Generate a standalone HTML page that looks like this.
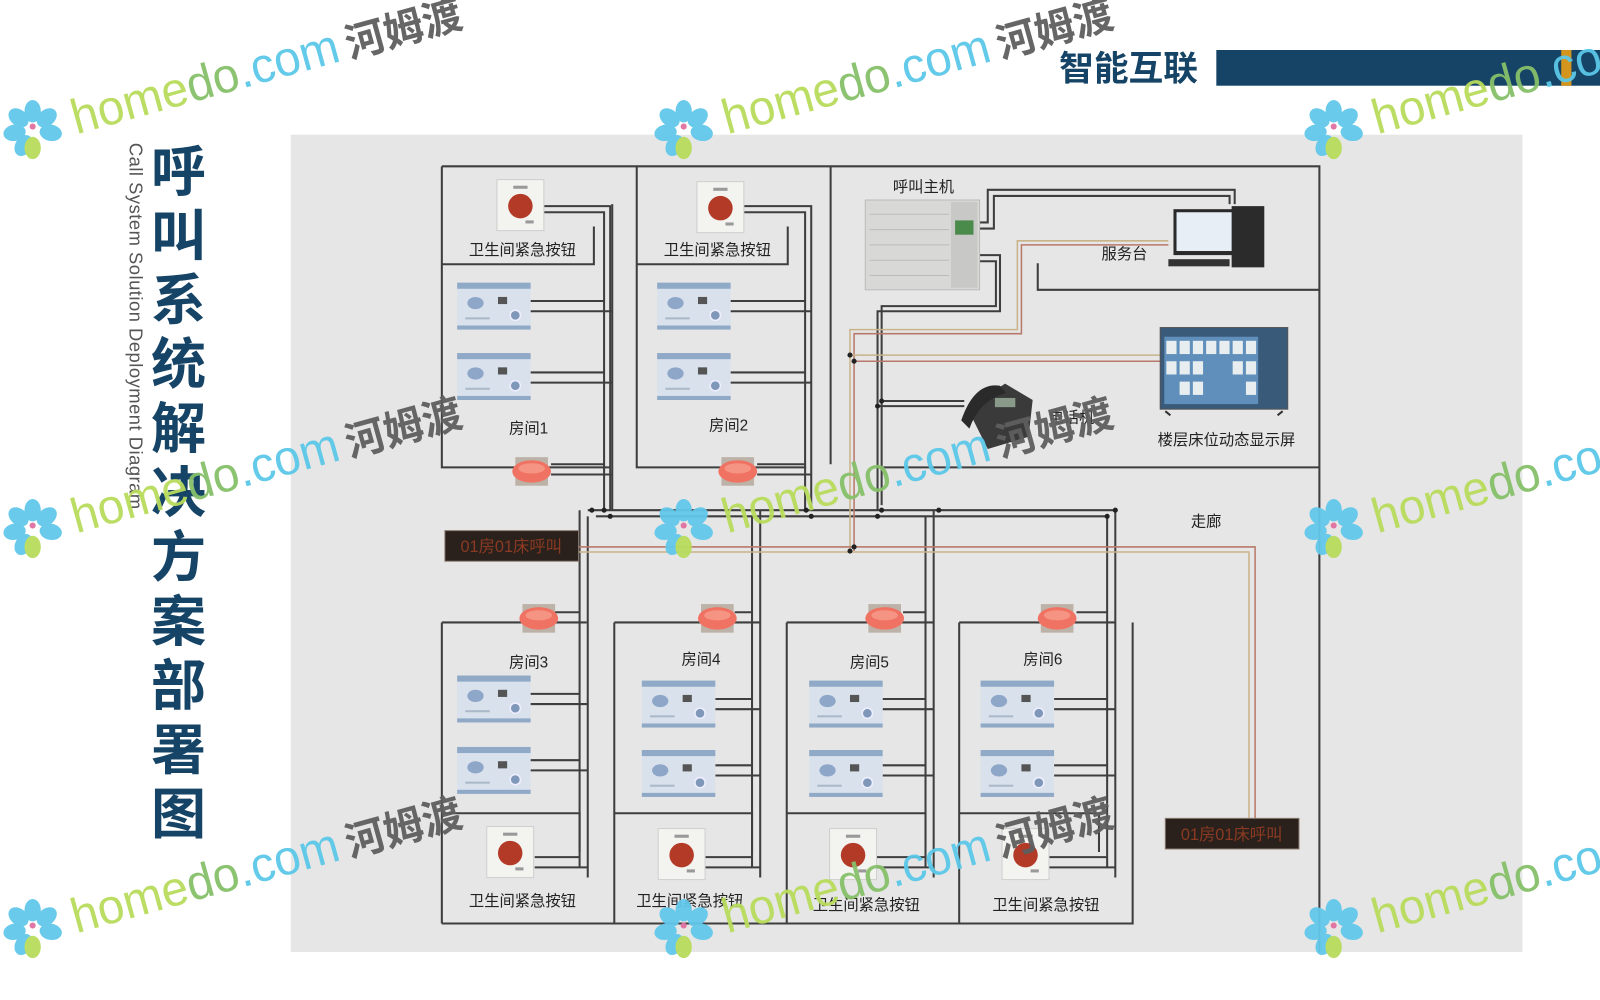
<!DOCTYPE html>
<html><head><meta charset="utf-8"><style>
html,body{margin:0;padding:0;background:#fff;width:1600px;height:1000px;overflow:hidden}
svg{display:block}
text{font-family:"Liberation Sans","Noto Sans CJK SC",sans-serif}
</style></head><body>
<svg width="1600" height="1000" viewBox="0 0 1568 980" preserveAspectRatio="none" xmlns="http://www.w3.org/2000/svg">
<defs>
<g id="bu">
<rect x="0" y="0" width="72" height="46" rx="2" fill="#d9e2ec"/>
<rect x="0" y="0" width="72" height="6" fill="#8fa9c7"/>
<rect x="0" y="42" width="72" height="4" fill="#8fa9c7"/>
<ellipse cx="18" cy="20" rx="8" ry="6" fill="#8ea7c9"/>
<rect x="40" y="14" width="9" height="7" fill="#555"/>
<circle cx="57" cy="32" r="5" fill="#7f97b8" stroke="#eef" stroke-width="1.5"/>
<rect x="8" y="34" width="24" height="2" fill="#aab8c8"/>
</g>
<g id="eb">
<rect x="0" y="0" width="46" height="50" fill="#f3f3f0" stroke="#cfcfcf"/>
<circle cx="23" cy="26" r="12" fill="#b23a26"/>
<rect x="16" y="6" width="14" height="3" fill="#999"/>
<rect x="28" y="40" width="8" height="3" fill="#999"/>
</g>
<g id="lp">
<rect x="4" y="0" width="32" height="28" fill="#bdb2a8"/>
<ellipse cx="20" cy="14" rx="19" ry="11" fill="#f07262"/>
<ellipse cx="20" cy="11" rx="13" ry="5" fill="#f69484"/>
</g>
<g id="fl">
<g fill="#62c8ea">
<ellipse cx="0" cy="-18" rx="8" ry="11"/>
<ellipse cx="0" cy="-18" rx="8" ry="11" transform="rotate(50)"/>
<ellipse cx="0" cy="-18" rx="8" ry="11" transform="rotate(100)"/>
<ellipse cx="0" cy="-18" rx="8" ry="11" transform="rotate(-50)"/>
<ellipse cx="0" cy="-18" rx="8" ry="11" transform="rotate(-100)"/>
<ellipse cx="0" cy="-18" rx="8" ry="11" transform="rotate(-150)"/>
</g>
<ellipse cx="0" cy="18" rx="8" ry="11" fill="#b8dc5c"/>
<circle cx="0" cy="-3" r="3" fill="#e070a0"/>
</g>
<g id="wm">
<use href="#fl" x="0" y="0"/>
<g transform="rotate(-15.5)">
<text x="40" y="16" font-size="48" fill="#b8dc5c" textLength="395" lengthAdjust="spacingAndGlyphs">home<tspan fill="#86c06a">do</tspan><tspan fill="#5bc8e8">.com</tspan><tspan fill="#5e5e5e" font-weight="bold" font-size="40" dx="8">河姆渡</tspan></text>
</g>
</g>
</defs>

<text x="1038" y="79" font-size="34" font-weight="bold" fill="#164466">智能互联</text>
<rect x="1192" y="49" width="376" height="35" fill="#164466"/>
<rect x="1530" y="49" width="10" height="35" fill="#d4951e"/>

<g font-size="54" font-weight="bold" fill="#164466" text-anchor="middle">
<text x="175" y="187">呼</text><text x="175" y="250">叫</text><text x="175" y="313">系</text><text x="175" y="376">统</text><text x="175" y="439">解</text><text x="175" y="502">决</text><text x="175" y="565">方</text><text x="175" y="628">案</text><text x="175" y="691">部</text><text x="175" y="754">署</text><text x="175" y="817">图</text>
</g>
<text transform="translate(127,140) rotate(90)" font-size="18" fill="#555" letter-spacing="0.5">Call System Solution Deployment Diagram</text>

<rect x="285" y="132" width="1207" height="801" fill="#e6e6e6"/>

<g stroke="#3e3e3e" stroke-width="2" fill="none">
<path d="M433 163H1293V933"/>
<path d="M433 163V458H598"/>
<path d="M624 163V458H790"/>
<path d="M814 163V455"/>
<path d="M865 458H1293"/>
<path d="M1017 258V284H1293"/>
<path d="M433 259H582V222"/>
<path d="M533 202H598V500 M533 208H592V500"/>
<path d="M520 295H592 M520 305H600 M520 365H592 M520 375H600 M540 455H592 M540 465H600"/>
<path d="M600 200V500"/>
<path d="M624 259H772V222"/>
<path d="M729 202H795V500 M729 208H789V500"/>
<path d="M716 295H789 M716 305H795 M716 365H789 M716 375H795 M742 455H789 M742 465H795"/>
<path d="M960 218H968V186H1210V200 M960 224H974V192H1205V200"/>
<path d="M960 250H980V305H860V500 M960 256H976V300H864V495"/>
<path d="M860 398H945 M864 393H945"/>
<path d="M576 500H1093 M584 506H1085"/>
<path d="M433 905H1110V610 M433 610V905 M602 610V905 M771 610V905 M940 610V905"/>
<path d="M433 610H575 M602 610H745 M771 610H915 M940 610H1093"/>
<path d="M433 797H568V835 M602 797H737V835 M771 797H907V835 M940 797H1077V835"/>
<path d="M568 500V850 M576 506V860 M737 506V850 M745 500V860 M907 506V850 M915 500V860 M1085 506V850 M1093 500V860"/>
<path d="M520 680H568 M520 690H576 M520 745H568 M520 755H576 M524 840H568 M524 850H576 M540 600H568"/>
<path d="M701 685H737 M701 695H745 M701 750H737 M701 760H745 M690 840H737 M690 850H745 M720 600H737"/>
<path d="M865 685H907 M865 695H915 M865 750H907 M865 760H915 M858 840H907 M858 850H915 M885 600H907"/>
<path d="M1033 685H1085 M1033 695H1093 M1033 750H1085 M1033 760H1093 M1025 840H1085 M1025 850H1093 M1055 600H1085"/>
</g>
<g fill="none" stroke-width="1.5">
<path d="M1145 236H997V323H833V540" stroke="#c9b48a"/>
<path d="M1145 240H1001V327H837V540" stroke="#b77a6a"/>
<path d="M833 348H1137" stroke="#c9b48a"/>
<path d="M837 354H1137" stroke="#b77a6a"/>
<path d="M567 536H1230V802" stroke="#b77a6a"/>
<path d="M567 541H1224V802" stroke="#c9b48a"/>
</g>
<g fill="#222">
<circle cx="580" cy="500" r="2.5"/><circle cx="592" cy="500" r="2.5"/><circle cx="598" cy="506" r="2.5"/>
<circle cx="790" cy="500" r="2.5"/><circle cx="795" cy="506" r="2.5"/><circle cx="860" cy="506" r="2.5"/><circle cx="864" cy="500" r="2.5"/>
<circle cx="920" cy="500" r="2.5"/><circle cx="1093" cy="500" r="2.5"/><circle cx="1085" cy="506" r="2.5"/>
<circle cx="833" cy="348" r="2.5"/><circle cx="837" cy="354" r="2.5"/><circle cx="860" cy="398" r="2.5"/><circle cx="864" cy="393" r="2.5"/>
<circle cx="833" cy="540" r="2.5"/><circle cx="837" cy="536" r="2.5"/>
</g>

<use href="#eb" x="487" y="176"/><use href="#eb" x="683" y="178"/>
<use href="#bu" x="448" y="277"/><use href="#bu" x="448" y="346"/>
<use href="#bu" x="644" y="277"/><use href="#bu" x="644" y="346"/>
<use href="#lp" x="501" y="448"/><use href="#lp" x="703" y="448"/>
<use href="#lp" x="508" y="592"/><use href="#lp" x="683" y="592"/><use href="#lp" x="847" y="592"/><use href="#lp" x="1016" y="592"/>
<use href="#bu" x="448" y="662"/><use href="#bu" x="448" y="732"/>
<use href="#bu" x="629" y="667"/><use href="#bu" x="629" y="735"/>
<use href="#bu" x="793" y="667"/><use href="#bu" x="793" y="735"/>
<use href="#bu" x="961" y="667"/><use href="#bu" x="961" y="735"/>
<use href="#eb" x="477" y="810"/><use href="#eb" x="645" y="812"/><use href="#eb" x="813" y="812"/><use href="#eb" x="982" y="812"/>

<rect x="848" y="196" width="112" height="88" fill="#d8d8d6" stroke="#bbb"/>
<g stroke="#bbb" stroke-width="1"><path d="M852 210H930M852 225H930M852 240H930M852 255H930M852 270H930"/></g>
<rect x="932" y="198" width="26" height="84" fill="#c8c8c6"/>
<rect x="936" y="216" width="18" height="14" fill="#4a8a4a"/>
<rect x="1150" y="205" width="62" height="45" fill="#2a2a2a"/>
<rect x="1153" y="208" width="56" height="38" fill="#e8eef6"/>
<rect x="1207" y="202" width="32" height="60" fill="#2b2b2b"/>
<rect x="1145" y="254" width="60" height="7" fill="#333"/>
<rect x="1137" y="321" width="125" height="80" fill="#3a5a7a" stroke="#555"/>
<rect x="1141" y="330" width="92" height="66" fill="#5f8fba"/>
<g fill="#e8eef0">
<rect x="1143" y="334" width="10" height="13"/><rect x="1156" y="334" width="10" height="13"/><rect x="1169" y="334" width="10" height="13"/><rect x="1182" y="334" width="10" height="13"/><rect x="1195" y="334" width="10" height="13"/><rect x="1208" y="334" width="10" height="13"/><rect x="1221" y="334" width="10" height="13"/>
<rect x="1143" y="354" width="10" height="13"/><rect x="1156" y="354" width="10" height="13"/><rect x="1169" y="354" width="10" height="13"/><rect x="1208" y="354" width="10" height="13"/><rect x="1221" y="354" width="10" height="13"/>
<rect x="1156" y="374" width="10" height="13"/><rect x="1169" y="374" width="10" height="13"/><rect x="1221" y="374" width="10" height="13"/>
</g>
<path d="M1142 403L1147 407M1257 403L1252 407" stroke="#333" stroke-width="2"/>
<path d="M948 400 L985 376 L1012 392 L1008 428 L968 440 Z" fill="#3a3a3a"/>
<path d="M942 412 Q955 374 980 378 L986 385 Q960 392 950 420 Z" fill="#2a2a2a"/>
<rect x="975" y="390" width="20" height="9" fill="#8a9a8a"/>
<rect x="436" y="520" width="131" height="30" fill="#2a211c" stroke="#8a7a70"/>
<text x="501" y="541" font-size="16" fill="#8a3a22" text-anchor="middle">01房01床呼叫</text>
<rect x="1142" y="802" width="131" height="30" fill="#2a211c" stroke="#8a7a70"/>
<text x="1207" y="823" font-size="16" fill="#8a3a22" text-anchor="middle">01房01床呼叫</text>

<g font-size="15" fill="#222" text-anchor="middle">
<text x="512" y="250">卫生间紧急按钮</text>
<text x="703" y="250">卫生间紧急按钮</text>
<text x="518" y="425">房间1</text>
<text x="714" y="422">房间2</text>
<text x="905" y="188">呼叫主机</text>
<text x="1102" y="254">服务台</text>
<text x="1050" y="414">电话机</text>
<text x="1202" y="436">楼层床位动态显示屏</text>
<text x="1182" y="516">走廊</text>
<text x="518" y="654">房间3</text>
<text x="687" y="651">房间4</text>
<text x="852" y="654">房间5</text>
<text x="1022" y="651">房间6</text>
<text x="512" y="888">卫生间紧急按钮</text>
<text x="676" y="888">卫生间紧急按钮</text>
<text x="849" y="892">卫生间紧急按钮</text>
<text x="1025" y="892">卫生间紧急按钮</text>
</g>

<g opacity="0.95">
<use href="#wm" x="32" y="127"/><use href="#wm" x="670" y="127"/><use href="#wm" x="1307" y="127"/>
<use href="#wm" x="32" y="518"/><use href="#wm" x="670" y="518"/><use href="#wm" x="1307" y="518"/>
<use href="#wm" x="32" y="910"/><use href="#wm" x="670" y="910"/><use href="#wm" x="1307" y="910"/>
</g>
</svg>
</body></html>
